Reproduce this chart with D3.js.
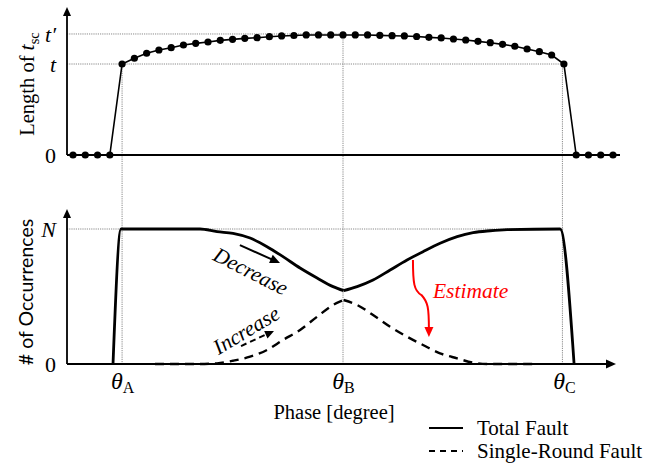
<!DOCTYPE html>
<html><head><meta charset="utf-8">
<script src="https://cdn.jsdelivr.net/npm/d3@7"></script>
<style>body{margin:0;background:#fff} svg{display:block}</style>
</head><body><svg id="c" width="658" height="466"></svg>
<script>
// ---------- data ----------
const phaseSteps = d3.range(45);            // sampled phase positions (top panel)
const lengthVals = [0,0,0,0,1.0,
  1.063,1.118,1.154,1.179,1.209,1.227,1.242,1.260,1.271,1.282,
  1.289,1.300,1.308,1.313,1.319,1.319,1.319,1.319,1.319,1.319,
  1.315,1.311,1.308,1.302,1.293,1.286,1.275,1.264,1.249,1.234,
  1.216,1.195,1.165,1.135,1.099,
  1.0,0,0,0,0];
const thetaPhases = [4, 22, 40];
const thetaSubs = ["A", "B", "C"];
const topTickValues = [0, 1, 1.33];
const topTickLabels = ["0", "t", "t′"];
const botTickValues = [0, 1];
const botTickLabels = ["0", "N"];

const totalPhase = [3.26,3.91,10.35,11.74,13.04,14.43,15.81,17.11,18.5,19.89,21.19,22.05,
  23.15,24.45,25.84,27.22,28.52,29.91,31.30,32.60,33.99,35.37,39.69,40.83];
const totalVals = [0,1,1,0.980,0.968,0.933,0.869,0.795,0.711,0.637,0.573,0.543,
  0.573,0.622,0.696,0.770,0.832,0.894,0.943,0.973,0.987,0.995,1,0];
const singlePhase = [6.68,10.35,11.74,13.04,14.43,15.81,17.11,18.5,19.89,21.19,22.05,
  23.15,24.45,25.84,27.22,28.52,29.91,31.30,32.60,33.99,37.49];
const singleVals = [0,0,0.005,0.024,0.054,0.104,0.178,0.252,0.350,0.437,0.474,
  0.437,0.363,0.276,0.202,0.141,0.079,0.042,0.010,0,0];
const legendLabels = ["Total Fault", "Single-Round Fault"];

// ---------- scales ----------
const svg = d3.select("#c");
const x = d3.scaleLinear().domain([0, 44]).range([73, 613]);
const yTop = d3.scaleLinear().domain([0, 1]).range([155, 64]);
const yBot = d3.scaleLinear().domain([0, 1]).range([364, 229]);
const axisX0 = 67;

const serif = "'Liberation Serif', 'Times New Roman', serif";
const grid = "#8a8a8a";

// ---------- grid (dotted) ----------
const g = svg.append("g");
g.append("line").attr("x1", axisX0).attr("x2", x(thetaPhases[1])).attr("y1", yTop(1.33)).attr("y2", yTop(1.33));
g.append("line").attr("x1", axisX0).attr("x2", x(thetaPhases[2])).attr("y1", yTop(1)).attr("y2", yTop(1));
g.append("line").attr("x1", axisX0).attr("x2", x(thetaPhases[2])).attr("y1", yBot(1)).attr("y2", yBot(1));
thetaPhases.forEach((p, i) => {
  g.append("line").attr("x1", x(p) - (i === 2 ? 1.5 : 0)).attr("x2", x(p) - (i === 2 ? 1.5 : 0))
    .attr("y1", yTop(lengthVals[p])).attr("y2", yBot(0));
});
g.selectAll("line").attr("stroke", grid).attr("stroke-width", 1).attr("stroke-dasharray", "1.2,1");

// ---------- axes ----------
function arrowUp(cx, tipY) {
  svg.append("path").attr("d", `M${cx},${tipY} L${cx-4},${tipY+9} L${cx+4},${tipY+9} Z`).attr("fill", "#000");
}
function arrowRight(tipX, cy) {
  svg.append("path").attr("d", `M${tipX},${cy} L${tipX-10},${cy-4.5} L${tipX-10},${cy+4.5} Z`).attr("fill", "#000");
}
svg.append("line").attr("x1", axisX0).attr("x2", axisX0).attr("y1", yTop(0)).attr("y2", 14).attr("stroke", "#000").attr("stroke-width", 1.8);
arrowUp(axisX0, 7);
svg.append("line").attr("x1", axisX0).attr("x2", 620).attr("y1", yTop(0)).attr("y2", yTop(0)).attr("stroke", "#000").attr("stroke-width", 1.8);
svg.append("line").attr("x1", axisX0).attr("x2", axisX0).attr("y1", yBot(0)).attr("y2", 216).attr("stroke", "#000").attr("stroke-width", 1.8);
arrowUp(axisX0, 209);
svg.append("line").attr("x1", axisX0).attr("x2", 608).attr("y1", yBot(0)).attr("y2", yBot(0)).attr("stroke", "#000").attr("stroke-width", 1.8);
arrowRight(616, yBot(0));

const topAxis = svg.append("g").attr("transform", `translate(${axisX0 - 8},0)`)
  .call(d3.axisLeft(yTop).tickValues(topTickValues).tickSize(0).tickFormat((d, i) => topTickLabels[i]));
topAxis.select(".domain").remove();
topAxis.selectAll("text").attr("font-family", serif).attr("font-size", 22).attr("fill", "#000")
  .attr("font-style", (d, i) => i === 0 ? "normal" : "italic");

const botAxis = svg.append("g").attr("transform", `translate(${axisX0 - 8},0)`)
  .call(d3.axisLeft(yBot).tickValues(botTickValues).tickSize(0).tickFormat((d, i) => botTickLabels[i]));
botAxis.select(".domain").remove();
botAxis.selectAll("text").attr("font-family", serif).attr("font-size", 22).attr("fill", "#000")
  .attr("font-style", (d, i) => i === 0 ? "normal" : "italic");

const xAxis = svg.append("g").attr("transform", `translate(0,${yBot(0) + 12})`)
  .call(d3.axisBottom(x).tickValues(thetaPhases).tickSize(0).tickFormat(""));
xAxis.select(".domain").remove();
xAxis.selectAll(".tick").each(function(d, i) {
  const t = d3.select(this).append("text").attr("y", 13).attr("fill", "#000")
    .attr("font-family", serif).attr("text-anchor", "middle");
  t.append("tspan").attr("font-style", "italic").attr("font-size", 24).text("θ");
  t.append("tspan").attr("font-size", 16).attr("dy", 4).text(thetaSubs[i]);
});

// axis titles
const yl1 = svg.append("text").attr("transform", "translate(34,84) rotate(-90)").attr("text-anchor", "middle")
  .attr("font-family", serif).attr("font-size", 20.5).attr("fill", "#000");
yl1.append("tspan").text("Length of ");
yl1.append("tspan").attr("font-style", "italic").attr("font-size", 22).text("t");
yl1.append("tspan").attr("font-size", 14.5).attr("dy", 5).text("sc");

svg.append("text").attr("transform", "translate(33,292) rotate(-90)").attr("text-anchor", "middle")
  .attr("font-family", "Lato, 'Open Sans', sans-serif").attr("font-size", 19.5).attr("fill", "#000")
  .text("# of Occurrences");

svg.append("text").attr("x", x(thetaPhases[1]) - 9).attr("y", 419).attr("text-anchor", "middle")
  .attr("font-family", serif).attr("font-size", 20.5).attr("fill", "#000")
  .text("Phase [degree]");

// ---------- top panel series ----------
const topData = phaseSteps.map((p, i) => ({p, v: lengthVals[i]}));
svg.append("path").datum(topData).attr("fill", "none").attr("stroke", "#000").attr("stroke-width", 1.6)
  .attr("d", d3.line().x(d => x(d.p)).y(d => yTop(d.v)));
svg.selectAll("circle.dot").data(topData).join("circle").attr("class", "dot")
  .attr("cx", d => x(d.p)).attr("cy", d => yTop(d.v)).attr("r", 3.6).attr("fill", "#000");

// ---------- bottom panel series ----------
const split = thetaPhases[1] + 0.05;
function drawSeries(ph, vals, dash, width) {
  const pts = ph.map((p, i) => ({p, v: vals[i]}));
  const left = pts.filter(d => d.p <= split), right = pts.filter(d => d.p >= split);
  const line = d3.line().x(d => x(d.p)).y(d => yBot(d.v)).curve(d3.curveMonotoneX);
  [left, right].forEach(seg => {
    svg.append("path").datum(seg).attr("fill", "none").attr("stroke", "#000").attr("stroke-width", width)
      .attr("stroke-dasharray", dash).attr("stroke-linejoin", "round").attr("d", line);
  });
}
drawSeries(totalPhase, totalVals, null, 2.8);
drawSeries(singlePhase, singleVals, "9,6", 2.4);

// ---------- annotations ----------
function arrowHead(x1, y1, x2, y2, color, size) {
  const a = Math.atan2(y2 - y1, x2 - x1), s = size;
  const p1 = [x2 - s * Math.cos(a) + s * 0.45 * Math.sin(a), y2 - s * Math.sin(a) - s * 0.45 * Math.cos(a)];
  const p2 = [x2 - s * Math.cos(a) - s * 0.45 * Math.sin(a), y2 - s * Math.sin(a) + s * 0.45 * Math.cos(a)];
  svg.append("path").attr("d", `M${x2},${y2} L${p1[0]},${p1[1]} L${p2[0]},${p2[1]} Z`).attr("fill", color);
}
const dA = [[13.6, 0.881], [16.87, 0.748]].map(d => [x(d[0]), yBot(d[1])]);
svg.append("line").attr("x1", dA[0][0]).attr("y1", dA[0][1]).attr("x2", dA[1][0] - 6).attr("y2", dA[1][1] - 2.6)
  .attr("stroke", "#000").attr("stroke-width", 2);
arrowHead(dA[0][0], dA[0][1], dA[1][0], dA[1][1], "#000", 10);
svg.append("text").attr("transform", `translate(${x(14.5)},${yBot(0.689)}) rotate(27)`)
  .attr("text-anchor", "middle").attr("dy", "0.35em").attr("font-family", serif).attr("font-style", "italic")
  .attr("font-size", 21.5).attr("fill", "#000").text("Decrease");
const iA = [[13.69, 0.133], [16.38, 0.244]].map(d => [x(d[0]), yBot(d[1])]);
svg.append("line").attr("x1", iA[0][0]).attr("y1", iA[0][1]).attr("x2", iA[1][0] - 5).attr("y2", iA[1][1] + 2)
  .attr("stroke", "#000").attr("stroke-width", 2).attr("stroke-dasharray", "6,4");
arrowHead(iA[0][0], iA[0][1], iA[1][0], iA[1][1], "#000", 9);
svg.append("text").attr("transform", `translate(${x(14.1)},${yBot(0.252)}) rotate(-31)`)
  .attr("text-anchor", "middle").attr("dy", "0.35em").attr("font-family", serif).attr("font-style", "italic")
  .attr("font-size", 21.5).attr("fill", "#000").text("Increase");
svg.append("text").attr("x", x(29.33)).attr("y", yBot(0.489)).attr("font-family", serif).attr("font-style", "italic")
  .attr("font-size", 21.5).attr("fill", "#ff0000").text("Estimate");
const rp = [[27.7, 0.770], [27.7, 0.6], [28.76, 0.474], [29.0, 0.2]].map(d => [x(d[0]), yBot(d[1])]);
svg.append("path").attr("d", `M${rp[0][0]},${rp[0][1]} C${rp[0][0]},${rp[1][1]} ${rp[0][0]+1},${rp[1][1]+8} ${(rp[1][0]+rp[2][0])/2+2},${rp[2][1]-5} C${rp[2][0]+2},${rp[2][1]+2} ${rp[3][0]},${rp[2][1]+8} ${rp[3][0]},${rp[3][1]-8}`)
  .attr("fill", "none").attr("stroke", "#ff0000").attr("stroke-width", 2);
arrowHead(rp[3][0], rp[3][1] - 10, rp[3][0], rp[3][1], "#ff0000", 10);

// ---------- legend ----------
const lg = svg.append("g").attr("transform", "translate(429,428)");
legendLabels.forEach((lab, i) => {
  lg.append("line").attr("x1", 0).attr("x2", 34).attr("y1", i * 23).attr("y2", i * 23)
    .attr("stroke", "#000").attr("stroke-width", 2.2).attr("stroke-dasharray", i === 1 ? "6,5" : null);
  lg.append("text").attr("x", 48).attr("y", i * 23).attr("dy", "0.35em").attr("font-family", serif)
    .attr("font-size", 21).attr("fill", "#000").text(lab);
});
</script>
</body></html>
